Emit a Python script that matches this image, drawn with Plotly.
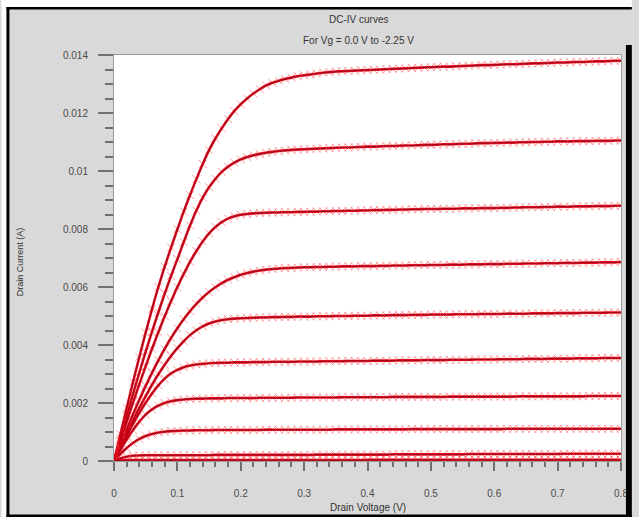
import numpy as np
import plotly.graph_objects as go

# ---------------- data (drain current in mA, Vd step 0.01 V) ----------------
VD = [round(i * 0.01, 2) for i in range(81)]

ID_VG_0_00 = [
    0.00, 0.92, 1.83, 2.72, 3.59, 4.43, 5.24, 6.00, 6.70, 7.36,
    7.99, 8.60, 9.17, 9.72, 10.24, 10.72, 11.12, 11.47, 11.79, 12.07,
    12.30, 12.50, 12.67, 12.82, 12.95, 13.04, 13.11, 13.17, 13.22, 13.27,
    13.30, 13.33, 13.36, 13.39, 13.41, 13.43, 13.44, 13.45, 13.46, 13.47,
    13.48, 13.49, 13.50, 13.51, 13.52, 13.53, 13.54, 13.55, 13.56, 13.57,
    13.58, 13.59, 13.60, 13.60, 13.61, 13.62, 13.63, 13.64, 13.65, 13.65,
    13.66, 13.67, 13.68, 13.68, 13.69, 13.70, 13.71, 13.71, 13.72, 13.73,
    13.74, 13.74, 13.75, 13.76, 13.76, 13.77, 13.78, 13.78, 13.79, 13.80,
    13.80]
ID_VG_0_25 = [
    0.00, 0.78, 1.55, 2.31, 3.05, 3.77, 4.46, 5.13, 5.77, 6.38,
    6.96, 7.55, 8.12, 8.64, 9.08, 9.44, 9.73, 9.97, 10.15, 10.29,
    10.40, 10.48, 10.54, 10.59, 10.63, 10.66, 10.69, 10.71, 10.73, 10.74,
    10.75, 10.76, 10.77, 10.78, 10.79, 10.80, 10.81, 10.81, 10.82, 10.83,
    10.84, 10.84, 10.85, 10.86, 10.86, 10.87, 10.88, 10.88, 10.89, 10.90,
    10.90, 10.91, 10.92, 10.92, 10.93, 10.94, 10.94, 10.95, 10.96, 10.96,
    10.97, 10.97, 10.98, 10.98, 10.99, 10.99, 11.00, 11.00, 11.01, 11.01,
    11.02, 11.02, 11.02, 11.03, 11.03, 11.03, 11.04, 11.04, 11.04, 11.05,
    11.05]
ID_VG_0_50 = [
    0.00, 0.68, 1.35, 2.01, 2.65, 3.27, 3.87, 4.44, 4.99, 5.51,
    6.00, 6.45, 6.87, 7.24, 7.57, 7.85, 8.07, 8.24, 8.36, 8.44,
    8.49, 8.52, 8.54, 8.55, 8.56, 8.57, 8.57, 8.58, 8.58, 8.59,
    8.59, 8.60, 8.60, 8.61, 8.61, 8.62, 8.62, 8.63, 8.63, 8.64,
    8.64, 8.65, 8.65, 8.66, 8.66, 8.67, 8.67, 8.68, 8.68, 8.69,
    8.69, 8.69, 8.70, 8.70, 8.70, 8.71, 8.71, 8.71, 8.72, 8.72,
    8.72, 8.73, 8.73, 8.74, 8.74, 8.75, 8.75, 8.75, 8.76, 8.76,
    8.77, 8.77, 8.77, 8.78, 8.78, 8.78, 8.79, 8.79, 8.79, 8.80,
    8.80]
ID_VG_0_75 = [
    0.00, 0.55, 1.09, 1.61, 2.11, 2.59, 3.04, 3.47, 3.87, 4.24,
    4.58, 4.89, 5.17, 5.42, 5.64, 5.83, 5.99, 6.13, 6.25, 6.34,
    6.42, 6.48, 6.53, 6.57, 6.60, 6.62, 6.64, 6.65, 6.66, 6.67,
    6.68, 6.68, 6.69, 6.69, 6.70, 6.70, 6.71, 6.71, 6.71, 6.72,
    6.72, 6.72, 6.73, 6.73, 6.74, 6.74, 6.74, 6.75, 6.75, 6.75,
    6.76, 6.76, 6.76, 6.77, 6.77, 6.77, 6.78, 6.78, 6.78, 6.79,
    6.79, 6.79, 6.80, 6.80, 6.80, 6.81, 6.81, 6.81, 6.82, 6.82,
    6.82, 6.83, 6.83, 6.83, 6.84, 6.84, 6.84, 6.85, 6.85, 6.85,
    6.86]
ID_VG_1_00 = [
    0.00, 0.48, 0.95, 1.40, 1.83, 2.24, 2.63, 2.99, 3.32, 3.62,
    3.89, 4.13, 4.34, 4.51, 4.64, 4.74, 4.81, 4.86, 4.89, 4.91,
    4.92, 4.93, 4.94, 4.95, 4.95, 4.96, 4.96, 4.97, 4.97, 4.98,
    4.98, 4.98, 4.99, 4.99, 4.99, 5.00, 5.00, 5.00, 5.01, 5.01,
    5.01, 5.02, 5.02, 5.02, 5.03, 5.03, 5.03, 5.04, 5.04, 5.04,
    5.05, 5.05, 5.05, 5.05, 5.06, 5.06, 5.06, 5.06, 5.07, 5.07,
    5.07, 5.07, 5.08, 5.08, 5.08, 5.08, 5.09, 5.09, 5.09, 5.09,
    5.10, 5.10, 5.10, 5.10, 5.11, 5.11, 5.11, 5.11, 5.12, 5.12,
    5.12]
ID_VG_1_25 = [
    0.00, 0.44, 0.87, 1.28, 1.66, 2.01, 2.33, 2.61, 2.84, 3.02,
    3.14, 3.23, 3.29, 3.33, 3.35, 3.37, 3.38, 3.39, 3.39, 3.40,
    3.40, 3.40, 3.41, 3.41, 3.41, 3.42, 3.42, 3.42, 3.42, 3.43,
    3.43, 3.43, 3.43, 3.44, 3.44, 3.44, 3.44, 3.45, 3.45, 3.45,
    3.45, 3.46, 3.46, 3.46, 3.46, 3.47, 3.47, 3.47, 3.47, 3.48,
    3.48, 3.48, 3.48, 3.49, 3.49, 3.49, 3.49, 3.50, 3.50, 3.50,
    3.50, 3.51, 3.51, 3.51, 3.51, 3.52, 3.52, 3.52, 3.52, 3.53,
    3.53, 3.53, 3.53, 3.54, 3.54, 3.54, 3.54, 3.55, 3.55, 3.55,
    3.55]
ID_VG_1_50 = [
    0.00, 0.38, 0.74, 1.07, 1.36, 1.60, 1.78, 1.91, 2.00, 2.06,
    2.10, 2.12, 2.14, 2.15, 2.15, 2.16, 2.16, 2.16, 2.17, 2.17,
    2.17, 2.17, 2.17, 2.18, 2.18, 2.18, 2.18, 2.18, 2.18, 2.19,
    2.19, 2.19, 2.19, 2.19, 2.19, 2.19, 2.20, 2.20, 2.20, 2.20,
    2.20, 2.20, 2.20, 2.20, 2.21, 2.21, 2.21, 2.21, 2.21, 2.21,
    2.21, 2.21, 2.21, 2.22, 2.22, 2.22, 2.22, 2.22, 2.22, 2.22,
    2.22, 2.22, 2.22, 2.22, 2.23, 2.23, 2.23, 2.23, 2.23, 2.23,
    2.23, 2.23, 2.23, 2.23, 2.23, 2.24, 2.24, 2.24, 2.24, 2.24,
    2.24]
ID_VG_1_75 = [
    0.00, 0.24, 0.45, 0.62, 0.76, 0.86, 0.93, 0.98, 1.01, 1.03,
    1.04, 1.05, 1.05, 1.06, 1.06, 1.06, 1.07, 1.07, 1.07, 1.07,
    1.07, 1.07, 1.07, 1.07, 1.08, 1.08, 1.08, 1.08, 1.08, 1.08,
    1.08, 1.08, 1.08, 1.08, 1.08, 1.09, 1.09, 1.09, 1.09, 1.09,
    1.09, 1.09, 1.09, 1.09, 1.09, 1.09, 1.09, 1.10, 1.10, 1.10,
    1.10, 1.10, 1.10, 1.10, 1.10, 1.10, 1.10, 1.10, 1.10, 1.10,
    1.10, 1.10, 1.11, 1.11, 1.11, 1.11, 1.11, 1.11, 1.11, 1.11,
    1.11, 1.11, 1.11, 1.11, 1.11, 1.11, 1.11, 1.11, 1.11, 1.11,
    1.11]
ID_VG_2_00 = [
    0.00, 0.09, 0.15, 0.18, 0.19, 0.20, 0.20, 0.20, 0.20, 0.20,
    0.20, 0.20, 0.20, 0.20, 0.20, 0.20, 0.21, 0.21, 0.21, 0.21,
    0.21, 0.21, 0.21, 0.21, 0.21, 0.21, 0.21, 0.21, 0.21, 0.21,
    0.21, 0.21, 0.22, 0.22, 0.22, 0.22, 0.22, 0.22, 0.22, 0.22,
    0.22, 0.22, 0.22, 0.22, 0.23, 0.23, 0.23, 0.23, 0.23, 0.23,
    0.23, 0.23, 0.23, 0.23, 0.23, 0.23, 0.24, 0.24, 0.24, 0.24,
    0.24, 0.24, 0.24, 0.24, 0.24, 0.24, 0.24, 0.24, 0.24, 0.24,
    0.24, 0.25, 0.25, 0.25, 0.25, 0.25, 0.25, 0.25, 0.25, 0.25,
    0.25]
ID_VG_2_25 = [
    0.00, 0.02, 0.03, 0.03, 0.03, 0.03, 0.03, 0.03, 0.03, 0.03,
    0.03, 0.03, 0.03, 0.03, 0.03, 0.03, 0.03, 0.03, 0.03, 0.03,
    0.03, 0.03, 0.03, 0.03, 0.03, 0.03, 0.03, 0.03, 0.03, 0.03,
    0.03, 0.03, 0.03, 0.03, 0.03, 0.03, 0.03, 0.03, 0.03, 0.03,
    0.04, 0.04, 0.04, 0.04, 0.04, 0.04, 0.04, 0.04, 0.04, 0.04,
    0.04, 0.04, 0.04, 0.04, 0.04, 0.04, 0.04, 0.04, 0.04, 0.04,
    0.04, 0.04, 0.04, 0.04, 0.04, 0.04, 0.04, 0.04, 0.04, 0.04,
    0.04, 0.04, 0.04, 0.04, 0.04, 0.04, 0.04, 0.04, 0.04, 0.04,
    0.04]

VG_LABELS = ["0.0 V", "-0.25 V", "-0.5 V", "-0.75 V", "-1.0 V",
             "-1.25 V", "-1.5 V", "-1.75 V", "-2.0 V", "-2.25 V"]
CURVES = [ID_VG_0_00, ID_VG_0_25, ID_VG_0_50, ID_VG_0_75, ID_VG_1_00,
          ID_VG_1_25, ID_VG_1_50, ID_VG_1_75, ID_VG_2_00, ID_VG_2_25]

X_TICKS = [0, 0.1, 0.2, 0.3, 0.4, 0.5, 0.6, 0.7, 0.8]
X_TICK_TEXT = ["0", "0.1", "0.2", "0.3", "0.4", "0.5", "0.6", "0.7", "0.8"]
Y_TICKS = [0, 0.002, 0.004, 0.006, 0.008, 0.01, 0.012, 0.014]
Y_TICK_TEXT = ["0", "0.002", "0.004", "0.006", "0.008", "0.01", "0.012", "0.014"]

TITLE_1 = "DC-IV curves"
TITLE_2 = "For Vg = 0.0 V to -2.25 V"
X_TITLE = "Drain Voltage (V)"
Y_TITLE = "Drain Current (A)"

# ---------------- layout geometry ----------------
W, H = 639, 517
L, R, T, B = 114, 628, 55, 461


def px(x):
    return (x - L) / (R - L)


def py(y):
    return (B - y) / (B - T)


FONT = "Liberation Sans, Arial, sans-serif"
GRAY_BG = "#d9d9d9"

fig = go.Figure()
vd = np.array(VD)
for name, cur in zip(VG_LABELS, CURVES):
    ida = np.array(cur) / 1000.0
    fig.add_trace(go.Scatter(
        x=vd, y=ida, mode="markers", name="meas " + name, showlegend=False,
        marker=dict(symbol="x-thin", size=8,
                    line=dict(width=1, color="rgba(255,60,60,0.5)")),
        hoverinfo="skip"))
    fig.add_trace(go.Scatter(
        x=vd, y=ida, mode="lines", name="model " + name, showlegend=False,
        line=dict(color="rgba(230,0,20,0.9)", width=2.6, shape="spline"),
        hoverinfo="skip"))
    fig.add_trace(go.Scatter(
        x=vd, y=ida, mode="lines", name="core " + name, showlegend=False,
        line=dict(color="rgba(150,0,20,0.8)", width=1.2, shape="spline"),
        hoverinfo="skip"))

axis_common = dict(
    showgrid=False, zeroline=False, showline=True, linecolor="#9a9a9a",
    linewidth=1, mirror=True, ticks="outside", tickcolor="#707070",
    tickfont=dict(family=FONT, size=10, color="#4a4a4a"),
)

fig.update_xaxes(
    range=[0, 0.8], tickvals=X_TICKS, ticktext=X_TICK_TEXT,
    ticklen=9, tickwidth=1.5, ticklabelstandoff=14,
    minor=dict(dtick=0.02, ticklen=5, tickcolor="#707070", ticks="outside"),
    **axis_common)
fig.update_yaxes(
    range=[0, 0.014], tickvals=Y_TICKS, ticktext=Y_TICK_TEXT,
    ticklen=15, tickwidth=1.5, ticklabelstandoff=8,
    minor=dict(dtick=0.0005, ticklen=8, tickcolor="#707070", ticks="outside"),
    **axis_common)

shapes = [
    # white outer strips
    dict(type="rect", xref="paper", yref="paper", x0=px(0), x1=px(W),
         y0=py(0), y1=py(7), fillcolor="white", line=dict(width=0), layer="above"),
    dict(type="rect", xref="paper", yref="paper", x0=px(0), x1=px(5),
         y0=py(0), y1=py(H), fillcolor="white", line=dict(width=0), layer="above"),
    # black frame
    dict(type="rect", xref="paper", yref="paper", x0=px(5), x1=px(W),
         y0=py(7), y1=py(9.5), fillcolor="black", line=dict(width=0), layer="above"),
    dict(type="rect", xref="paper", yref="paper", x0=px(5), x1=px(8),
         y0=py(7), y1=py(H), fillcolor="black", line=dict(width=0), layer="above"),
    dict(type="rect", xref="paper", yref="paper", x0=px(5), x1=px(W),
         y0=py(514.5), y1=py(H), fillcolor="black", line=dict(width=0), layer="above"),
    dict(type="rect", xref="paper", yref="paper", x0=px(633), x1=px(W),
         y0=py(45), y1=py(H), fillcolor="black", line=dict(width=0), layer="above"),
]

annotations = [
    dict(text=TITLE_1, xref="paper", yref="paper", x=px(362), y=py(20),
         showarrow=False, font=dict(family=FONT, size=10, color="#333333"),
         xanchor="center", yanchor="middle"),
    dict(text=TITLE_2, xref="paper", yref="paper", x=px(362), y=py(41),
         showarrow=False, font=dict(family=FONT, size=10, color="#333333"),
         xanchor="center", yanchor="middle"),
    dict(text=X_TITLE, xref="paper", yref="paper", x=px(372), y=py(507),
         showarrow=False, font=dict(family=FONT, size=10, color="#333333"),
         xanchor="center", yanchor="middle"),
    dict(text=Y_TITLE, xref="paper", yref="paper", x=px(19), y=py(262),
         showarrow=False, textangle=-90,
         font=dict(family=FONT, size=9, color="#333333"),
         xanchor="center", yanchor="middle"),
]

fig.update_layout(
    width=W, height=H, autosize=False,
    margin=dict(l=L, r=W - R, t=T, b=H - B, pad=0),
    paper_bgcolor=GRAY_BG, plot_bgcolor="white",
    shapes=shapes, annotations=annotations, showlegend=False,
)

fig.write_html("out.html", include_plotlyjs=True, full_html=True,
               config={"displayModeBar": False})
